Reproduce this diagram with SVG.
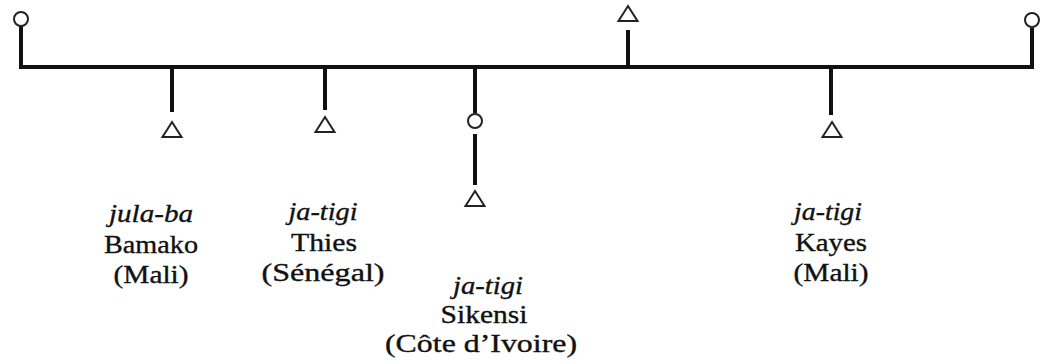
<svg xmlns="http://www.w3.org/2000/svg" width="1042" height="364" viewBox="0 0 1042 364">
<style>
.ln{stroke:#111;stroke-width:4;fill:none;stroke-linecap:butt}
.st{stroke:#111;stroke-width:4;fill:none}
.sym{stroke:#222;stroke-width:2;fill:#fff}
.t{font-family:"Liberation Serif","Times New Roman",serif;font-size:25px;fill:#111;stroke:#111;stroke-width:0.35;text-anchor:middle}
.i{font-style:italic}
</style>
<defs>
<polygon id="tri" points="0,0 9.5,15 -9.5,15" class="sym"/>
</defs>
<rect width="1042" height="364" fill="#fff"/>
<g id="connectors">
<path class="ln" d="M21,26 V67 H1032 V28"/>
<path class="st" d="M172,67 V112"/>
<path class="st" d="M325,67 V110"/>
<path class="st" d="M475,67 V113"/>
<path class="st" d="M475,134 V185"/>
<path class="st" d="M628,67 V30"/>
<path class="st" d="M831,67 V115"/>
</g>
<g id="ego-left"><circle cx="21" cy="19" r="7" class="sym"/></g>
<g id="ego-right"><circle cx="1032" cy="20" r="7" class="sym"/></g>
<g id="bamako">
<use href="#tri" x="172" y="122"/>
<text class="t i" x="151" y="222" textLength="84" lengthAdjust="spacingAndGlyphs">jula-ba</text>
<text class="t" x="151" y="253" textLength="94" lengthAdjust="spacingAndGlyphs">Bamako</text>
<text class="t" x="151" y="283" textLength="75" lengthAdjust="spacingAndGlyphs">(Mali)</text>
</g>
<g id="thies">
<use href="#tri" x="325" y="117"/>
<text class="t i" x="323" y="220" textLength="69" lengthAdjust="spacingAndGlyphs">ja-tigi</text>
<text class="t" x="324" y="251" textLength="66" lengthAdjust="spacingAndGlyphs">Thies</text>
<text class="t" x="323" y="281" textLength="123" lengthAdjust="spacingAndGlyphs">(Sénégal)</text>
</g>
<g id="sikensi">
<circle cx="475" cy="121" r="7" class="sym"/>
<use href="#tri" x="475" y="191"/>
<text class="t i" x="488" y="294" textLength="70" lengthAdjust="spacingAndGlyphs">ja-tigi</text>
<text class="t" x="484" y="323" textLength="87" lengthAdjust="spacingAndGlyphs">Sikensi</text>
<text class="t" x="481" y="352" textLength="192" lengthAdjust="spacingAndGlyphs">(Côte d’Ivoire)</text>
</g>
<g id="top">
<use href="#tri" x="628" y="6"/>
</g>
<g id="kayes">
<use href="#tri" x="832" y="122"/>
<text class="t i" x="828" y="220" textLength="68" lengthAdjust="spacingAndGlyphs">ja-tigi</text>
<text class="t" x="831" y="251" textLength="72" lengthAdjust="spacingAndGlyphs">Kayes</text>
<text class="t" x="831" y="281" textLength="75" lengthAdjust="spacingAndGlyphs">(Mali)</text>
</g>
</svg>
